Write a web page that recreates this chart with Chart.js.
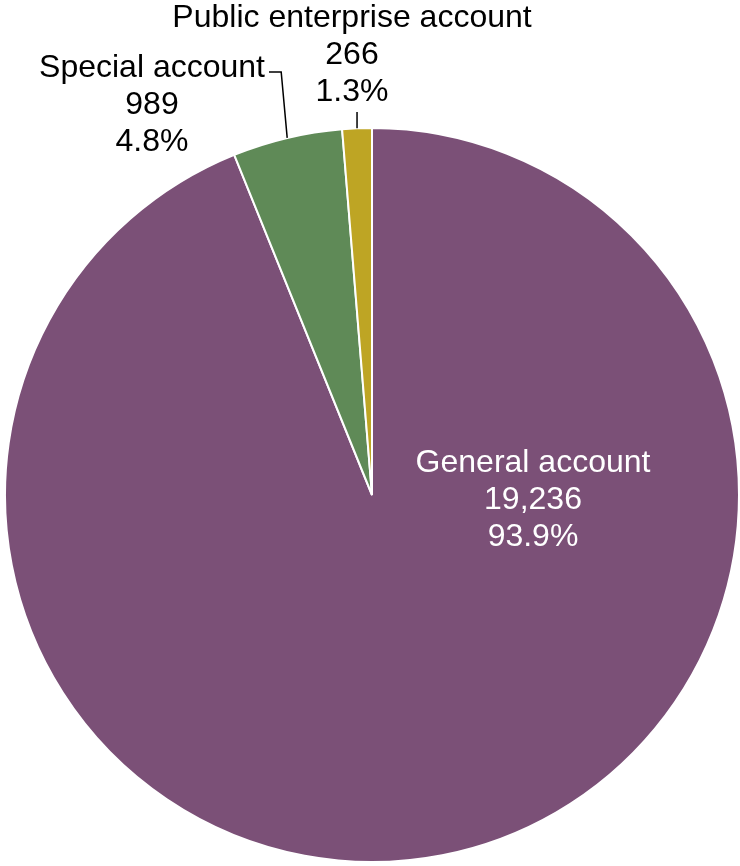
<!DOCTYPE html>
<html>
<head>
<meta charset="utf-8">
<script src="https://cdn.jsdelivr.net/npm/chart.js@4/dist/chart.umd.min.js"></script>
<style>
  html, body { margin: 0; padding: 0; background: #fff; }
  #wrap { width: 740px; height: 866px; position: relative; }
</style>
</head>
<body>
<div id="wrap"><canvas id="myChart"></canvas></div>
<script>
// data
const labels = ['General account', 'Special account', 'Public enterprise account'];
const values = [19236, 989, 266];
const valueText = ['19,236', '989', '266'];
const shareText = ['93.9%', '4.8%', '1.3%'];
const colors = ['#7b5077', '#5f8a57', '#bea524'];

const FONT = '32px "Liberation Sans", Arial, sans-serif';
const LINE_H = 37;

// where each label block sits (centre x, first line y) and how it is connected
const labelSpots = [
  { x: 533, y: 463, color: '#fff', leader: null },
  { x: 152, y: 68, color: '#000', leader: 'elbow' },
  { x: 352, y: 18, color: '#000', leader: 'down' }
];

const labelPlugin = {
  id: 'sliceLabels',
  afterDraw(chart) {
    const ctx = chart.ctx;
    const arcs = chart.getDatasetMeta(0).data;
    ctx.save();
    ctx.font = FONT;
    ctx.textAlign = 'center';
    ctx.textBaseline = 'middle';
    arcs.forEach((arc, i) => {
      const spot = labelSpots[i];
      const lines = [labels[i], valueText[i], shareText[i]];
      ctx.fillStyle = spot.color;
      lines.forEach((t, k) => ctx.fillText(t, spot.x, spot.y + k * LINE_H));

      if (!spot.leader) return;
      const p = arc.getProps(['x', 'y', 'startAngle', 'endAngle', 'outerRadius'], true);
      const mid = (p.startAngle + p.endAngle) / 2;
      const ex = p.x + Math.cos(mid) * p.outerRadius;
      const ey = p.y + Math.sin(mid) * p.outerRadius;
      ctx.strokeStyle = '#000';
      ctx.lineWidth = 1.5;
      ctx.beginPath();
      if (spot.leader === 'elbow') {
        const w = ctx.measureText(labels[i]).width;
        const sx = spot.x + w / 2 + 4;
        ctx.moveTo(sx, spot.y + 4);
        ctx.lineTo(ex - 6, spot.y + 4);
        ctx.lineTo(ex, ey);
      } else {
        const topY = spot.y + 2 * LINE_H + 20;
        ctx.moveTo(ex, topY);
        ctx.lineTo(ex, ey);
      }
      ctx.stroke();
    });
    ctx.restore();
  }
};

const ctx = document.getElementById('myChart').getContext('2d');
const chart = new Chart(ctx, {
  type: 'pie',
  data: {
    labels: labels,
    datasets: [{
      data: values,
      backgroundColor: colors,
      borderColor: '#fff',
      borderWidth: 2
    }]
  },
  options: {
    responsive: true,
    maintainAspectRatio: false,
    animation: false,
    layout: { padding: { left: 4, right: 0, top: 127, bottom: 3 } },
    plugins: {
      legend: { display: false },
      tooltip: { enabled: false }
    }
  },
  plugins: [labelPlugin]
});
</script>
</body>
</html>
